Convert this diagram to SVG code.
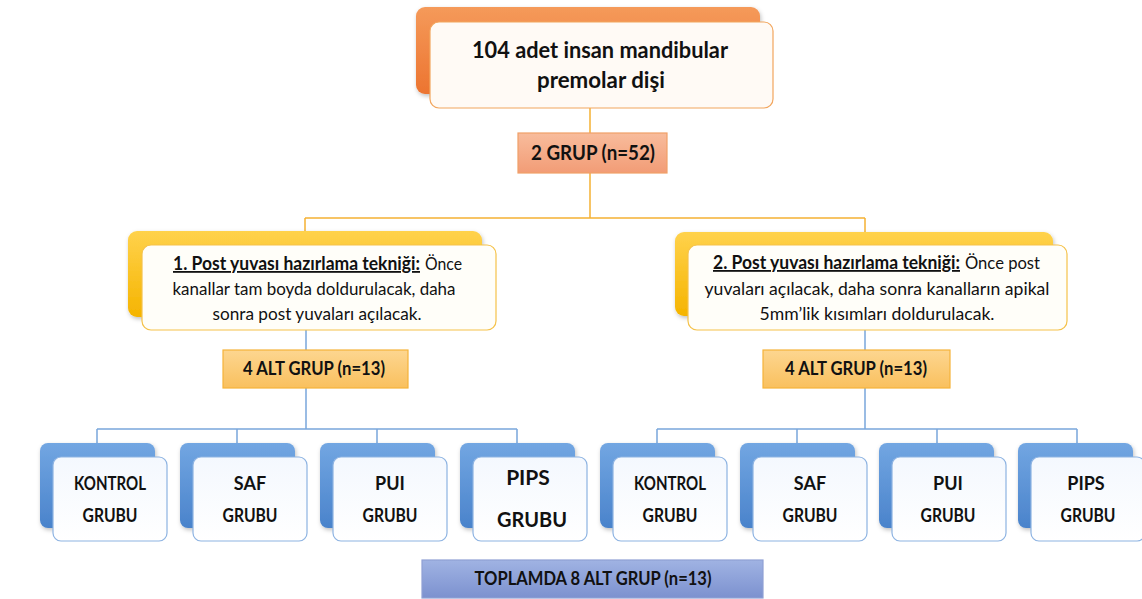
<svg xmlns="http://www.w3.org/2000/svg" width="1142" height="599" viewBox="0 0 1142 599">
<defs>
<linearGradient id="gOr" x1="0" y1="0" x2="0" y2="1"><stop offset="0" stop-color="#F59A5A"/><stop offset="1" stop-color="#EC7430"/></linearGradient>
<linearGradient id="gYe" x1="0" y1="0" x2="0" y2="1"><stop offset="0" stop-color="#FFD24C"/><stop offset="1" stop-color="#F5B400"/></linearGradient>
<linearGradient id="gBl" x1="0" y1="0" x2="0" y2="1"><stop offset="0" stop-color="#72A6E2"/><stop offset="1" stop-color="#4A83CB"/></linearGradient>
<linearGradient id="gSal" x1="0" y1="0" x2="0" y2="1"><stop offset="0" stop-color="#F8BC9C"/><stop offset="1" stop-color="#F29C76"/></linearGradient>
<linearGradient id="gAlt" x1="0" y1="0" x2="0" y2="1"><stop offset="0" stop-color="#FDD690"/><stop offset="1" stop-color="#F9C05E"/></linearGradient>
<linearGradient id="gTop" x1="0" y1="0" x2="0" y2="1"><stop offset="0" stop-color="#A0B3E3"/><stop offset="1" stop-color="#7C91CF"/></linearGradient>
<linearGradient id="gFrB" x1="0" y1="0" x2="0" y2="1"><stop offset="0" stop-color="#F4F8FE"/><stop offset="1" stop-color="#FFFFFF"/></linearGradient>
<filter id="sh" x="-10%" y="-10%" width="125%" height="130%"><feDropShadow dx="1" dy="2" stdDeviation="2" flood-color="#000" flood-opacity="0.25"/></filter>
</defs>
<style>
text{font-family:Lato,"Liberation Sans",sans-serif;fill:#111;text-anchor:middle}
.b{font-weight:bold}
.u{text-decoration:underline;font-weight:bold;text-anchor:start}
.s{text-anchor:start}
.frO{fill:#FFFAF5;stroke:#F2A65E;stroke-width:1.2}
.frY{fill:#FFFEF9;stroke:#F5C24A;stroke-width:1.2}
.frB{fill:url(#gFrB);stroke:#8DB3E2;stroke-width:1.2}
.bkB{fill:url(#gBl)}
.cO{stroke:#F5B133;stroke-width:1.5;fill:none}
.cB{stroke:#7AA7DC;stroke-width:1.5;fill:none}
.blu{font-size:18px;font-weight:bold}
</style>

<g id="connectors">
<path class="cO" d="M590 108V133M590 173V218M305 218H865M305 218V246M865 218V246"/>
<path class="cB" d="M306 330V350M306 388V429M97 429H517M97 429V443M237 429V443M377 429V443M517 429V443"/>
<path class="cB" d="M865 330V350M865 388V429M657 429H1077M657 429V443M797 429V443M937 429V443M1077 429V443"/>
</g>

<g id="top">
<rect x="416" y="7" width="344" height="87" rx="9" fill="url(#gOr)" filter="url(#sh)"/>
<rect class="frO" x="430" y="22" width="343" height="86" rx="9"/>
<text class="b" x="600" y="58" font-size="22" textLength="256" lengthAdjust="spacingAndGlyphs">104 adet insan mandibular</text>
<text class="b" x="601" y="88" font-size="22" textLength="128" lengthAdjust="spacingAndGlyphs">premolar dişi</text>
</g>

<g id="grup2">
<rect x="518" y="133" width="149" height="40" fill="url(#gSal)" stroke="#F0A068" stroke-width="1.2"/>
<text class="b" x="593" y="160" font-size="20" textLength="124" lengthAdjust="spacingAndGlyphs">2 GRUP (n=52)</text>
</g>

<g id="teknik1">
<rect x="128" y="231" width="354" height="86" rx="9" fill="url(#gYe)" filter="url(#sh)"/>
<rect class="frY" x="142" y="245" width="354" height="85" rx="9"/>
<text class="u" x="173" y="270" font-size="18" textLength="247" lengthAdjust="spacingAndGlyphs">1. Post yuvası hazırlama tekniği:</text>
<text class="s" x="425" y="270" font-size="18" textLength="37" lengthAdjust="spacingAndGlyphs">Önce</text>
<text x="314" y="295" font-size="18" textLength="283" lengthAdjust="spacingAndGlyphs">kanallar tam boyda doldurulacak, daha</text>
<text x="317" y="320" font-size="18" textLength="209" lengthAdjust="spacingAndGlyphs">sonra post yuvaları açılacak.</text>
</g>

<g id="teknik2">
<rect x="675" y="232" width="378" height="84" rx="9" fill="url(#gYe)" filter="url(#sh)"/>
<rect class="frY" x="688" y="245" width="379" height="85" rx="9"/>
<text class="u" x="713" y="269" font-size="18" textLength="247" lengthAdjust="spacingAndGlyphs">2. Post yuvası hazırlama tekniği:</text>
<text class="s" x="965" y="269" font-size="18" textLength="75" lengthAdjust="spacingAndGlyphs">Önce post</text>
<text x="877" y="295" font-size="18" textLength="345" lengthAdjust="spacingAndGlyphs">yuvaları açılacak, daha sonra kanalların apikal</text>
<text x="877" y="320" font-size="18" textLength="235" lengthAdjust="spacingAndGlyphs">5mm’lik kısımları doldurulacak.</text>
</g>

<g id="alt1">
<rect x="223" y="350" width="185" height="38" fill="url(#gAlt)" stroke="#F5B33A" stroke-width="1.2"/>
<text class="b" x="314" y="375" font-size="18" textLength="142" lengthAdjust="spacingAndGlyphs">4 ALT GRUP (n=13)</text>
</g>

<g id="alt2">
<rect x="763" y="350" width="187" height="38" fill="url(#gAlt)" stroke="#F5B33A" stroke-width="1.2"/>
<text class="b" x="856" y="375" font-size="18" textLength="142" lengthAdjust="spacingAndGlyphs">4 ALT GRUP (n=13)</text>
</g>

<g id="l-kontrol">
<rect class="bkB" x="40" y="443" width="115" height="85" rx="8" filter="url(#sh)"/>
<rect class="frB" x="53" y="457" width="114" height="84" rx="8"/>
<text class="blu" x="110" y="490" textLength="72" lengthAdjust="spacingAndGlyphs">KONTROL</text>
<text class="blu" x="110" y="522" textLength="55" lengthAdjust="spacingAndGlyphs">GRUBU</text>
</g>
<g id="l-saf">
<rect class="bkB" x="180" y="443" width="115" height="85" rx="8" filter="url(#sh)"/>
<rect class="frB" x="193" y="457" width="114" height="84" rx="8"/>
<text class="blu" x="250" y="490">SAF</text>
<text class="blu" x="250" y="522" textLength="55" lengthAdjust="spacingAndGlyphs">GRUBU</text>
</g>
<g id="l-pui">
<rect class="bkB" x="320" y="443" width="115" height="85" rx="8" filter="url(#sh)"/>
<rect class="frB" x="333" y="457" width="114" height="84" rx="8"/>
<text class="blu" x="390" y="490">PUI</text>
<text class="blu" x="390" y="522" textLength="55" lengthAdjust="spacingAndGlyphs">GRUBU</text>
</g>
<g id="l-pips">
<rect class="bkB" x="460" y="443" width="115" height="85" rx="8" filter="url(#sh)"/>
<rect class="frB" x="473" y="457" width="114" height="84" rx="8"/>
<text class="b" x="528" y="485" font-size="21">PIPS</text>
<text class="b" x="532" y="527" font-size="21" textLength="70" lengthAdjust="spacingAndGlyphs">GRUBU</text>
</g>

<g id="r-kontrol">
<rect class="bkB" x="600" y="443" width="115" height="85" rx="8" filter="url(#sh)"/>
<rect class="frB" x="613" y="457" width="114" height="84" rx="8"/>
<text class="blu" x="670" y="490" textLength="72" lengthAdjust="spacingAndGlyphs">KONTROL</text>
<text class="blu" x="670" y="522" textLength="55" lengthAdjust="spacingAndGlyphs">GRUBU</text>
</g>
<g id="r-saf">
<rect class="bkB" x="740" y="443" width="115" height="85" rx="8" filter="url(#sh)"/>
<rect class="frB" x="753" y="457" width="114" height="84" rx="8"/>
<text class="blu" x="810" y="490">SAF</text>
<text class="blu" x="810" y="522" textLength="55" lengthAdjust="spacingAndGlyphs">GRUBU</text>
</g>
<g id="r-pui">
<rect class="bkB" x="879" y="443" width="115" height="85" rx="8" filter="url(#sh)"/>
<rect class="frB" x="892" y="457" width="114" height="84" rx="8"/>
<text class="blu" x="948" y="490">PUI</text>
<text class="blu" x="948" y="522" textLength="55" lengthAdjust="spacingAndGlyphs">GRUBU</text>
</g>
<g id="r-pips">
<rect class="bkB" x="1018" y="443" width="115" height="85" rx="8" filter="url(#sh)"/>
<rect class="frB" x="1031" y="457" width="114" height="84" rx="8"/>
<text class="blu" x="1086" y="490">PIPS</text>
<text class="blu" x="1088" y="522" textLength="55" lengthAdjust="spacingAndGlyphs">GRUBU</text>
</g>

<g id="toplam">
<rect x="422" y="560" width="341" height="38" fill="url(#gTop)" stroke="#8FA0D4" stroke-width="1.2"/>
<text class="b" x="593" y="585" font-size="18" textLength="237" lengthAdjust="spacingAndGlyphs">TOPLAMDA 8 ALT GRUP (n=13)</text>
</g>
</svg>
